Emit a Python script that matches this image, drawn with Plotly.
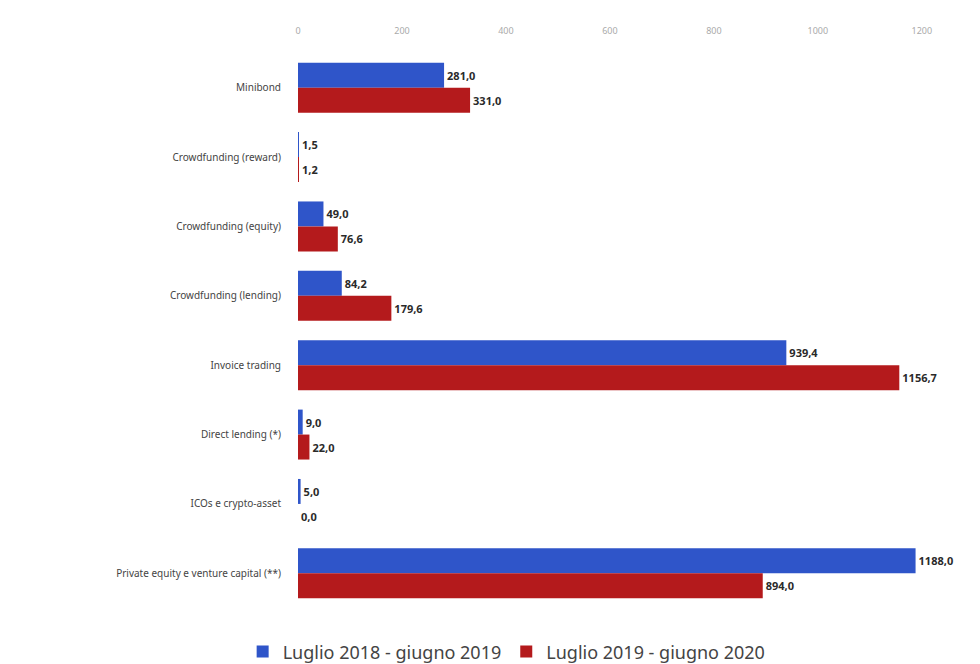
import plotly.graph_objects as go

categories = ["Minibond", "Crowdfunding (reward)", "Crowdfunding (equity)", "Crowdfunding (lending)",
              "Invoice trading", "Direct lending (*)", "ICOs e crypto-asset",
              "Private equity e venture capital (**)"]
series_2019 = [281.0, 1.5, 49.0, 84.2, 939.4, 9.0, 5.0, 1188.0]
series_2020 = [331.0, 1.2, 76.6, 179.6, 1156.7, 22.0, 0.0, 894.0]
series_names = ["Luglio 2018 - giugno 2019", "Luglio 2019 - giugno 2020"]
tick_values = [0, 200, 400, 600, 800, 1000, 1200]

def fmt(v):
    return f"{v:.1f}".replace(".", ",")

fig = go.Figure()
for name, vals, color in [(series_names[0], series_2019, "#2F55C9"),
                          (series_names[1], series_2020, "#B41A1C")]:
    fig.add_trace(go.Bar(
        y=categories, x=vals, name=name, orientation="h",
        marker=dict(color=color, line=dict(width=0)),
        text=[fmt(v) for v in vals], textposition="outside",
        textfont=dict(size=11, color="#2A2A2A", family="Noto Sans", weight="bold"),
        cliponaxis=False,
    ))

fig.update_layout(
    width=980, height=664,
    margin=dict(l=298, r=40, t=53, b=56, autoexpand=False),
    barmode="group", bargap=0.28, bargroupgap=0,
    plot_bgcolor="white", paper_bgcolor="white",
    font=dict(family="Noto Sans", color="#444444"),
    xaxis=dict(side="top", range=[0, 1235], tickvals=tick_values,
               showgrid=False, zeroline=False, showline=False,
               ticks="", ticklabelstandoff=16,
               tickfont=dict(size=9, color="#AAAAAA")),
    yaxis=dict(autorange="reversed", showgrid=False, showline=False,
               tickfont=dict(size=10, color="#444444"), ticks="", ticklabelstandoff=16),
    legend=dict(orientation="h", x=0.325, xanchor="center", y=-0.079, yanchor="middle",
                font=dict(size=18, color="#444444"), itemwidth=30),
    showlegend=True,
)

fig.write_html("out.html")
